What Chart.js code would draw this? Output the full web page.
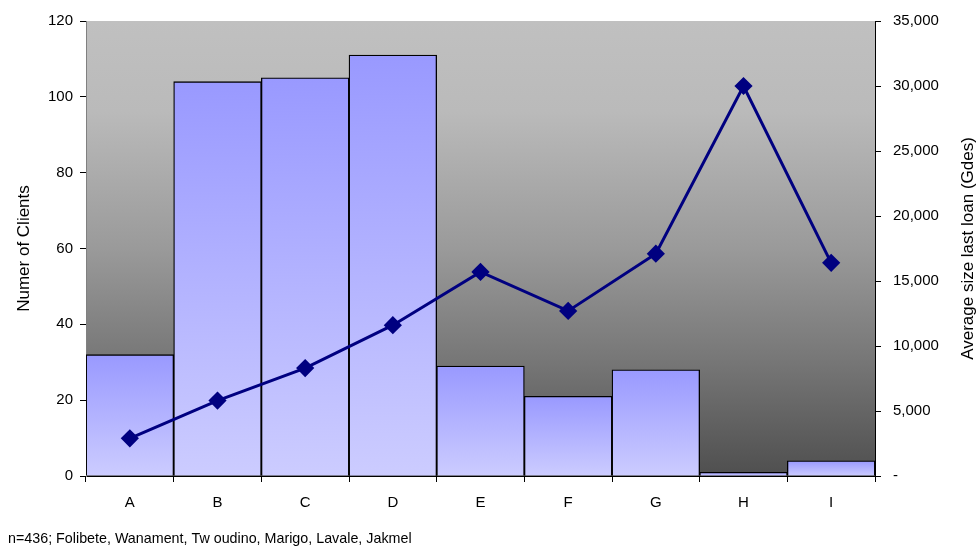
<!DOCTYPE html>
<html>
<head>
<meta charset="utf-8">
<script src="https://cdn.jsdelivr.net/npm/chart.js@4"></script>
<style>
  html, body { margin: 0; padding: 0; background: #fff; }
  canvas { display: block; }
</style>
</head>
<body>
<canvas id="chartCanvas" width="979" height="546"></canvas>
<script>
// data
const categories = ['A', 'B', 'C', 'D', 'E', 'F', 'G', 'H', 'I'];
const clients = [32, 104, 105, 111, 29, 21, 28, 1, 4];
const avgLoan = [2900, 5800, 8300, 11600, 15700, 12700, 17100, 30000, 16400];
const footnote = 'n=436; Folibete, Wanament, Tw oudino, Marigo, Lavale, Jakmel';
const leftTitle = 'Numer of Clients';
const rightTitle = 'Average size last loan (Gdes)';

const FONT = "'Liberation Sans', Arial, sans-serif";

// bars: each one gets its own top-to-bottom gradient
function barFill(ctx) {
  const chart = ctx.chart;
  if (!chart.chartArea || ctx.type !== 'data') return '#aaaaff';
  const ys = chart.scales.y;
  const top = ys.getPixelForValue(ctx.raw);
  const bot = ys.getPixelForValue(0);
  if (bot - top < 2) return '#ccccff';
  const g = chart.ctx.createLinearGradient(0, top, 0, bot);
  g.addColorStop(0, '#9999ff');
  g.addColorStop(1, '#ccccff');
  return g;
}

const backgroundPlugin = {
  id: 'plotBackground',
  beforeDraw(chart) {
    const { ctx, chartArea: a } = chart;
    const g = ctx.createLinearGradient(0, a.top, 0, a.bottom);
    g.addColorStop(0, '#c0c0c0');
    g.addColorStop(0.2, '#bababa');
    g.addColorStop(0.5, '#9a9a9a');
    g.addColorStop(0.75, '#767676');
    g.addColorStop(1, '#4f4f4f');
    ctx.save();
    ctx.fillStyle = g;
    ctx.fillRect(a.left, a.top, a.right - a.left, a.bottom - a.top);
    ctx.restore();
  }
};

// axis titles (both read bottom-to-top) and the footnote
const textPlugin = {
  id: 'extraText',
  afterDraw(chart) {
    const { ctx, chartArea: a } = chart;
    const mid = (a.top + a.bottom) / 2;
    ctx.save();
    ctx.fillStyle = '#000';
    ctx.font = '17px ' + FONT;
    ctx.textAlign = 'center';
    ctx.textBaseline = 'middle';
    ctx.save();
    ctx.translate(24, mid);
    ctx.rotate(-Math.PI / 2);
    ctx.fillText(leftTitle, 0, 0);
    ctx.restore();
    ctx.save();
    ctx.translate(968, mid);
    ctx.rotate(-Math.PI / 2);
    ctx.fillText(rightTitle, 0, 0);
    ctx.restore();
    ctx.font = '14.3px ' + FONT;
    ctx.textAlign = 'left';
    ctx.textBaseline = 'alphabetic';
    ctx.fillText(footnote, 8, 543);
    ctx.restore();
  }
};

const tickFont = { family: FONT, size: 15 };

new Chart(document.getElementById('chartCanvas').getContext('2d'), {
  data: {
    labels: categories,
    datasets: [
      {
        type: 'line',
        label: 'Average size last loan',
        data: avgLoan,
        yAxisID: 'y1',
        borderColor: '#000080',
        backgroundColor: '#000080',
        borderWidth: 3,
        pointStyle: 'rectRot',
        pointRadius: 7,
        pointBackgroundColor: '#000080',
        pointBorderColor: '#000080',
        tension: 0,
        order: 0
      },
      {
        type: 'bar',
        label: 'Number of clients',
        data: clients,
        yAxisID: 'y',
        backgroundColor: barFill,
        borderColor: '#000',
        borderWidth: 1.3,
        barPercentage: 1,
        categoryPercentage: 1,
        order: 1
      }
    ]
  },
  options: {
    responsive: false,
    animation: false,
    layout: { padding: { top: 20, bottom: 30, left: 0, right: 0 } },
    plugins: { legend: { display: false }, tooltip: { enabled: false } },
    scales: {
      x: {
        grid: { drawOnChartArea: false, drawTicks: true, tickLength: 6, color: '#000', offset: true },
        border: { color: '#000', width: 1 },
        ticks: { color: '#000', font: tickFont, padding: 12 },
        afterFit(s) { s.height = 40; }
      },
      y: {
        position: 'left',
        min: 0,
        max: 120,
        grid: { drawOnChartArea: false, tickLength: 6, color: '#000' },
        border: { color: '#808080', width: 1 },
        ticks: { stepSize: 20, color: '#000', font: tickFont, padding: 7 },
        afterFit(s) { s.width = 86; }
      },
      y1: {
        position: 'right',
        min: 0,
        max: 35000,
        grid: { drawOnChartArea: false, tickLength: 6, color: '#000' },
        border: { color: '#000', width: 1 },
        ticks: {
          stepSize: 5000,
          color: '#000',
          font: tickFont,
          padding: 12,
          callback: v => v === 0 ? '-' : v.toLocaleString('en-US')
        },
        afterFit(s) { s.width = 104; }
      }
    }
  },
  plugins: [backgroundPlugin, textPlugin]
});
</script>
</body>
</html>
